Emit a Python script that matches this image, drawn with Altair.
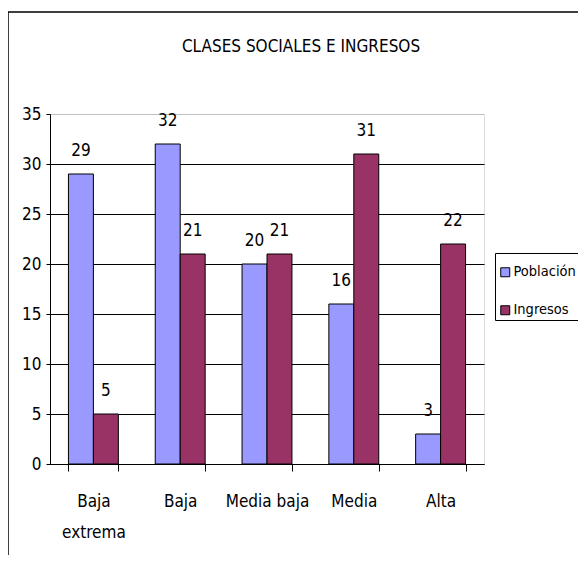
import altair as alt
import pandas as pd

categories = ["Baja extrema", "Baja", "Media baja", "Media", "Alta"]
poblacion = [29, 32, 20, 16, 3]
ingresos = [5, 21, 21, 31, 22]
series = ["Población", "Ingresos"]
colors = ["#9999FF", "#993366"]
y_ticks = [0, 5, 10, 15, 20, 25, 30, 35]
title_text = "CLASES SOCIALES E INGRESOS"

rows = []
for c, p, i in zip(categories, poblacion, ingresos):
    rows.append({"clase": c, "serie": series[0], "valor": p})
    rows.append({"clase": c, "serie": series[1], "valor": i})
df = pd.DataFrame(rows)

FONT = "DejaVu Sans Condensed, Liberation Sans Narrow, Liberation Sans"

x_enc = alt.X(
    "clase:N",
    sort=categories,
    title=None,
    scale=alt.Scale(paddingInner=0.425, paddingOuter=0.2125),
    axis=alt.Axis(
        labelAngle=0,
        labelFontSize=17,
        labelFont=FONT,
        labelColor="black",
        labelLineHeight=31,
        labelExpr="datum.label == 'Baja extrema' ? ['Baja', 'extrema'] : datum.label",
        labelPadding=22,
        tickBand="extent",
        tickSize=7,
        tickColor="black",
        domainColor="black",
        domainWidth=1,
        grid=False,
    ),
)
y_enc = alt.Y(
    "valor:Q",
    title=None,
    scale=alt.Scale(domain=[0, 35], nice=False),
    axis=alt.Axis(
        values=y_ticks,
        labelFontSize=17,
        labelFont=FONT,
        labelColor="black",
        labelPadding=5,
        tickSize=4,
        tickColor="black",
        domainColor="black",
        grid=True,
        gridColor={"condition": {"test": "datum.value == 35", "value": "#C0C0C0"}, "value": "black"},
        gridWidth=1,
    ),
)

base = alt.Chart(df)

bars = base.mark_bar(stroke="black", strokeWidth=1).encode(
    x=x_enc,
    xOffset=alt.XOffset("serie:N", sort=series),
    y=y_enc,
    color=alt.Color(
        "serie:N",
        sort=series,
        scale=alt.Scale(domain=series, range=colors),
        legend=alt.Legend(
            title=" ",
            titleFontSize=4,
            titlePadding=5,
            orient="none",
            legendX=445,
            legendY=139,
            labelFont=FONT,
            labelFontSize=14.5,
            labelColor="black",
            symbolType="square",
            symbolSize=81,
            symbolStrokeColor="black",
            symbolStrokeWidth=1,
            strokeColor="black",
            padding=3,
            rowPadding=23,
            labelOffset=1,
        ),
    ),
)

labels = base.mark_text(
    baseline="bottom", dy=-14, fontSize=17, font=FONT, color="black"
).encode(
    x=alt.X("clase:N", sort=categories),
    xOffset=alt.XOffset("serie:N", sort=series),
    y=alt.Y("valor:Q"),
    text=alt.Text("valor:Q"),
)

one = pd.DataFrame({"t": [title_text]})

frame = alt.Chart(one).mark_rect(
    fill=None, stroke="black", strokeWidth=1.5, clip=False
).encode(
    x=alt.value(-42), x2=alt.value(700), y=alt.value(-102), y2=alt.value(700)
)

title = alt.Chart(one).mark_text(
    fontSize=17, font=FONT, color="black", align="center", baseline="middle"
).encode(
    x=alt.value(251), y=alt.value(-67), text="t:N"
)

chart = alt.layer(frame, bars, labels, title).properties(
    width=434,
    height=350,
    padding={"left": 42, "top": 106, "right": 94, "bottom": 91},
    autosize=alt.AutoSizeParams(type="none"),
).configure_view(fill="#C0C0C0", stroke=None).configure(background="white")

chart.save("out.html", embed_options={"renderer": "svg", "actions": False})
